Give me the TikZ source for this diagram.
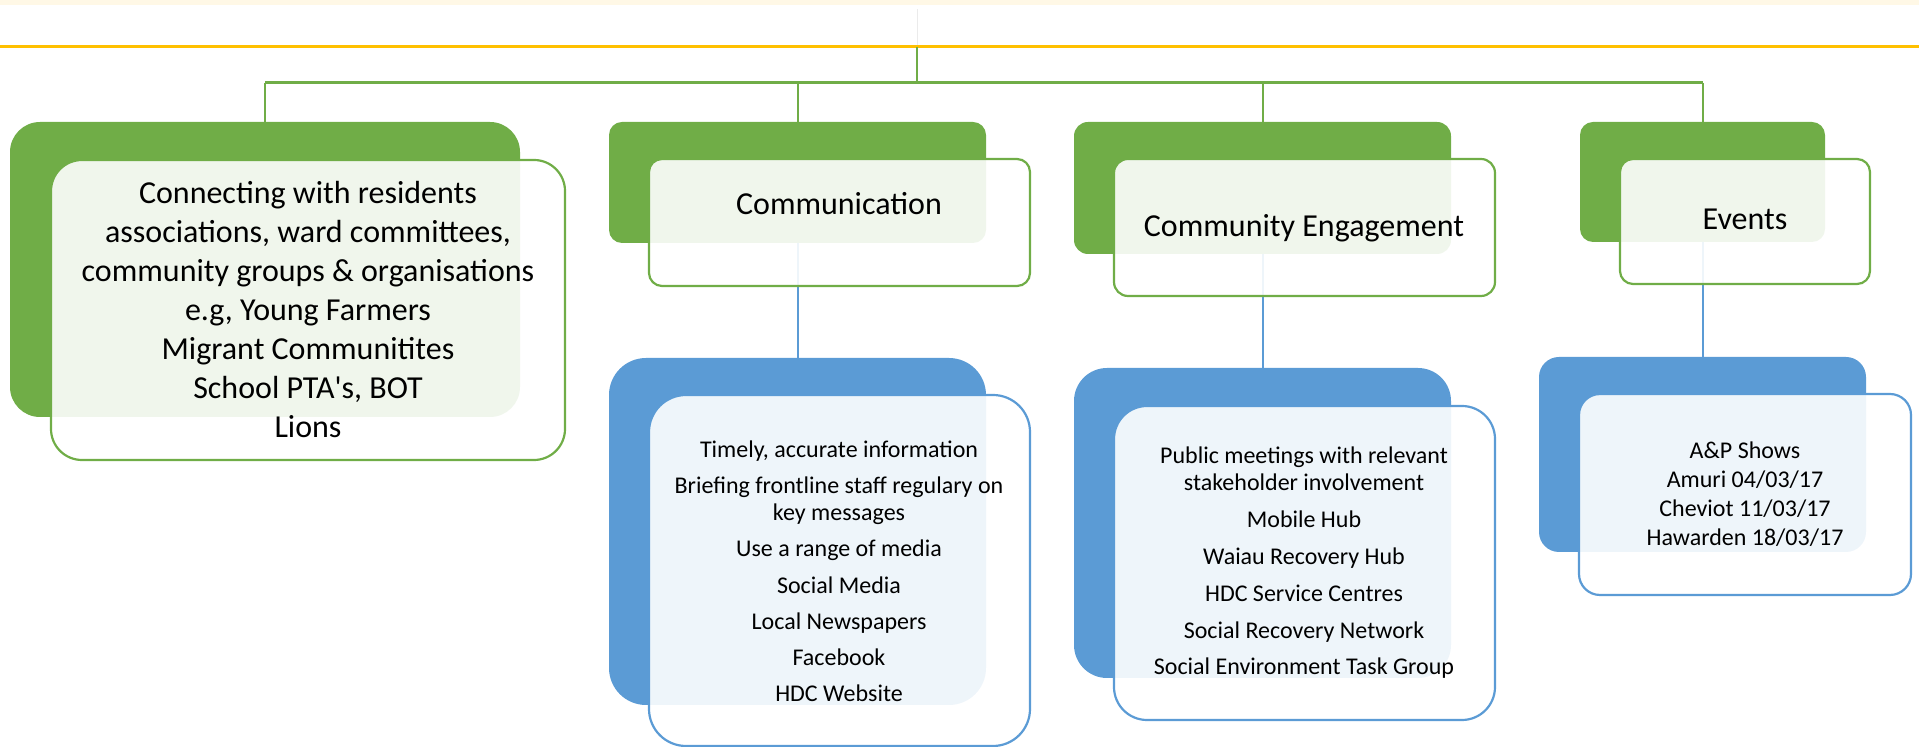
\documentclass[tikz,border=0pt]{standalone}
\usepackage{fontspec}
\setmainfont{Carlito}
\definecolor{gr}{HTML}{70AD47}
\definecolor{bl}{HTML}{5B9BD5}
\definecolor{gold}{HTML}{FFC000}
\definecolor{band}{HTML}{FFF8E6}
\definecolor{faint}{HTML}{EBEBEB}
\newcommand\rbox[7]{%
  \pgfmathsetmacro\rbCX{(#3+#5)/2}%
  \pgfmathsetmacro\rbCY{(#4+#6)/2}%
  \pgfmathsetmacro\rbW{(#5-#3)*0.5}%
  \pgfmathsetmacro\rbH{(#6-#4)*0.5}%
  \pgfmathsetmacro\rbR{#7*0.5}%
  \node[#1, minimum width=\rbW pt, minimum height=\rbH pt, rounded corners=\rbR pt] (#2) at (\rbCX,\rbCY) {};%
}
\begin{document}
\begin{tikzpicture}[x=0.5pt,y=-0.5pt,
  gback/.style={fill=gr, draw=none, inner sep=0pt, outer sep=0pt, rectangle},
  bback/.style={fill=bl, draw=none, inner sep=0pt, outer sep=0pt, rectangle},
  gfront/.style={draw=gr, line width=1.1pt, fill=white, fill opacity=0.9, draw opacity=1, inner sep=0pt, outer sep=0pt, rectangle},
  bfront/.style={draw=bl, line width=1.1pt, fill=white, fill opacity=0.9, draw opacity=1, inner sep=0pt, outer sep=0pt, rectangle},
  gline/.style={draw=gr, line width=1pt},
  gbar/.style={draw=gr, line width=1.5pt},
  bline/.style={draw=bl, line width=1pt},
  bigtxt/.style={anchor=base, align=center, inner sep=0pt, text=black, font=\fontsize{16pt}{19.5pt}\selectfont},
  smalltxt/.style={anchor=base, align=center, inner sep=0pt, text=black, font=\fontsize{12pt}{13.25pt}\selectfont},
  evtxt/.style={anchor=base, align=center, inner sep=0pt, text=black, font=\fontsize{12pt}{14.65pt}\selectfont},
]
\useasboundingbox (0,0) rectangle (1919,747);
\fill[band] (0,0) rectangle (1919,5);
\coordinate (topend) at (917,9);
\coordinate (top) at (917,47);
\coordinate (bus) at (917,83);
\coordinate (lineL) at (0,47);
\coordinate (lineR) at (1919,47);
\draw[faint, line width=0.5pt] (topend) -- (top);
\draw[gold, line width=1.5pt] (lineL) -- (lineR);
\draw[gline] (top) -- (bus);

% back green boxes
\rbox{gback}{b1}{10}{122}{520}{417}{30}
\rbox{gback}{c1}{609}{122}{986}{243}{13}
\rbox{gback}{d1}{1074}{122}{1451}{254}{14}
\rbox{gback}{e1}{1580}{122}{1825}{242}{13}

% green connectors
\draw[gbar] (b1.north |- bus) -- (e1.north |- bus);
\draw[gline] (b1.north |- bus) -- (b1.north);
\draw[gline] (c1.north |- bus) -- (c1.north);
\draw[gline] (d1.north |- bus) -- (d1.north);
\draw[gline] (e1.north |- bus) -- (e1.north);

% blue back boxes
\rbox{bback}{c2}{609}{358}{986}{705}{37}
\rbox{bback}{d2}{1074}{368}{1451}{678}{33}
\rbox{bback}{e2}{1539}{357}{1866}{552}{20}

% blue connectors
\draw[bline] (c1.south) -- (c2.north);
\draw[bline] (d1.south) -- (d2.north);
\draw[bline] (e1.south) -- (e2.north);

% front boxes
\rbox{gfront}{b1f}{51}{160}{565}{460}{31}
\rbox{gfront}{c1f}{649}{159}{1030}{286}{13}
\rbox{gfront}{d1f}{1114}{159}{1495}{296}{14}
\rbox{gfront}{e1f}{1620}{159}{1870}{284}{13}
\rbox{bfront}{c2f}{649}{395}{1030}{746}{37}
\rbox{bfront}{d2f}{1114}{406}{1495}{720}{33}
\rbox{bfront}{e2f}{1579}{394}{1911}{595}{21}

% texts (anchor = baseline of last line)
\node[bigtxt] (t1) at (308,438) {Connecting with residents\\associations, ward committees,\\community groups \& organisations\\e.g, Young Farmers\\Migrant Communitites\\School PTA\textquotesingle s, BOT\\Lions};
\node[bigtxt] (t2) at (839,215) {Communication};
\node[bigtxt] (t4) at (1304,237) {Community Engagement};
\node[bigtxt] (t6) at (1745,230) {Events};
\node[smalltxt] (t3) at (839,702) {Timely, accurate information\\[4.9pt]Briefing frontline staff regulary on\\key messages\\[4.9pt]Use a range of media\\[4.9pt]Social Media\\[4.9pt]Local Newspapers\\[4.9pt]Facebook\\[4.9pt]HDC Website};
\node[smalltxt] (t5) at (1304,675) {Public meetings with relevant\\stakeholder involvement\\[5.2pt]Mobile Hub\\[5.2pt]Waiau Recovery Hub\\[5.2pt]HDC Service Centres\\[5.2pt]Social Recovery Network\\[5.2pt]Social Environment Task Group};
\node[evtxt] (t7) at (1745,546) {A\&P Shows\\Amuri 04/03/17\\Cheviot 11/03/17\\Hawarden 18/03/17};
\end{tikzpicture}
\end{document}
